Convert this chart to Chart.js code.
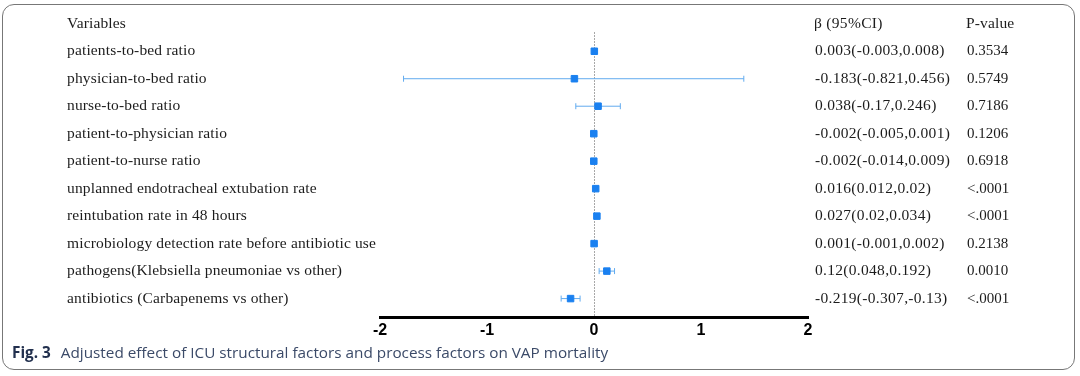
<!DOCTYPE html>
<html>
<head>
<meta charset="utf-8">
<script src="https://cdn.jsdelivr.net/npm/chart.js@4"></script>
<style>
  html, body { margin: 0; padding: 0; background: #fff; }
  #wrap { position: relative; width: 1080px; height: 376px; overflow: hidden; }
  #frame {
    position: absolute; left: 2px; top: 4px; width: 1073px; height: 366px;
    border: 1px solid #777; border-radius: 12px; box-sizing: border-box;
  }
  #chart { position: absolute; left: 0; top: 0; }
  #caption {
    position: absolute; left: 12px; top: 342px;
    font-family: "Open Sans", sans-serif; font-size: 15.3px; color: #3b4a68;
    white-space: nowrap;
  }
  #caption b { color: #22304e; margin-right: 6px; }
</style>
</head>
<body>
<div id="wrap">
  <div id="frame"></div>
  <canvas id="chart" width="1080" height="376"></canvas>
  <div id="caption"><b>Fig. 3</b> Adjusted effect of ICU structural factors and process factors on VAP mortality</div>
</div>
<script>
const variables = [
  'patients-to-bed ratio',
  'physician-to-bed ratio',
  'nurse-to-bed ratio',
  'patient-to-physician ratio',
  'patient-to-nurse ratio',
  'unplanned endotracheal extubation rate',
  'reintubation rate in 48 hours',
  'microbiology detection rate before antibiotic use',
  'pathogens(Klebsiella pneumoniae vs other)',
  'antibiotics (Carbapenems vs other)'
];
const betas = [0.003, -0.183, 0.038, -0.002, -0.002, 0.016, 0.027, 0.001, 0.12, -0.219];
// whisker ends as drawn (physician row is drawn much wider than its printed CI)
const ciLow = [-0.003, -1.78, -0.17, -0.005, -0.014, 0.012, 0.02, -0.001, 0.048, -0.307];
const ciHigh = [0.008, 1.40, 0.246, 0.001, 0.009, 0.02, 0.034, 0.002, 0.192, -0.13];
const betaLabels = [
  '0.003(-0.003,0.008)', '-0.183(-0.821,0.456)', '0.038(-0.17,0.246)',
  '-0.002(-0.005,0.001)', '-0.002(-0.014,0.009)', '0.016(0.012,0.02)',
  '0.027(0.02,0.034)', '0.001(-0.001,0.002)', '0.12(0.048,0.192)',
  '-0.219(-0.307,-0.13)'
];
const pValues = ['0.3534', '0.5749', '0.7186', '0.1206', '0.6918', '<.0001', '<.0001', '0.2138', '0.0010', '<.0001'];
const xTicks = [-2, -1, 0, 1, 2];

const BLUE = '#1a80f0';
const WHISKER = '#62abef';

// one small line dataset per row for the CI whiskers, caps via rotated 'line' points
const whiskerSets = variables.map((v, i) => ({
  type: 'line',
  data: [{ x: ciLow[i], y: i }, { x: ciHigh[i], y: i }],
  showLine: true,
  borderColor: WHISKER,
  borderWidth: 1,
  pointStyle: 'line',
  pointRotation: 90,
  pointRadius: 3,
  pointBorderColor: WHISKER,
  pointBorderWidth: 1,
  order: 2
}));

const pointSet = {
  type: 'scatter',
  data: betas.map((b, i) => ({ x: b, y: i })),
  pointStyle: 'rect',
  pointRadius: 4.6,
  backgroundColor: BLUE,
  borderColor: BLUE,
  borderWidth: 1,
  order: 1
};

const tableText = {
  id: 'tableText',
  afterDraw(chart) {
    const ctx = chart.ctx;
    const y = chart.scales.y;
    ctx.save();
    ctx.fillStyle = '#1c1c1c';
    ctx.font = '15.5px "Liberation Serif", "Times New Roman", serif';
    ctx.textBaseline = 'middle';
    ctx.textAlign = 'left';
    const head = y.getPixelForValue(-1);
    ctx.letterSpacing = '0.15px';
    ctx.fillText('Variables', 67, head);
    ctx.fillText('P-value', 966, head);
    variables.forEach((v, i) => ctx.fillText(v, 67, y.getPixelForValue(i)));
    ctx.letterSpacing = '0px';
    ctx.font = '15px "Liberation Serif", "Times New Roman", serif';
    pValues.forEach((p, i) => ctx.fillText(p, 967, y.getPixelForValue(i)));
    ctx.font = '15.5px "Liberation Serif", "Times New Roman", serif';
    ctx.letterSpacing = '0.3px';
    ctx.fillText('\u03b2 (95%CI)', 814, head);
    betaLabels.forEach((b, i) => ctx.fillText(b, 815, y.getPixelForValue(i)));
    ctx.restore();
  }
};

new Chart(document.getElementById('chart'), {
  data: { datasets: [...whiskerSets, pointSet] },
  options: {
    responsive: false,
    animation: false,
    layout: { padding: { left: 380, right: 272, top: 32, bottom: 0 } },
    plugins: { legend: { display: false }, tooltip: { enabled: false } },
    scales: {
      x: {
        type: 'linear',
        min: -2,
        max: 2,
        afterBuildTicks: (s) => { s.ticks = xTicks.map(v => ({ value: v })); },
        afterFit: (s) => { s.height = 59; },
        ticks: {
          color: '#000',
          padding: 4,
          font: { family: '"Liberation Sans", Arial, sans-serif', size: 16, weight: 'bold' }
        },
        grid: {
          drawTicks: false,
          lineWidth: 1,
          color: (c) => (c.tick && c.tick.value === 0 ? '#a8a8a8' : 'rgba(0,0,0,0)')
        },
        border: { display: true, color: '#000', width: 3, dash: [2, 1] }
      },
      y: {
        type: 'linear',
        display: false,
        reverse: true,
        min: -0.7,
        max: 9.67
      }
    }
  },
  plugins: [tableText]
});
</script>
</body>
</html>
